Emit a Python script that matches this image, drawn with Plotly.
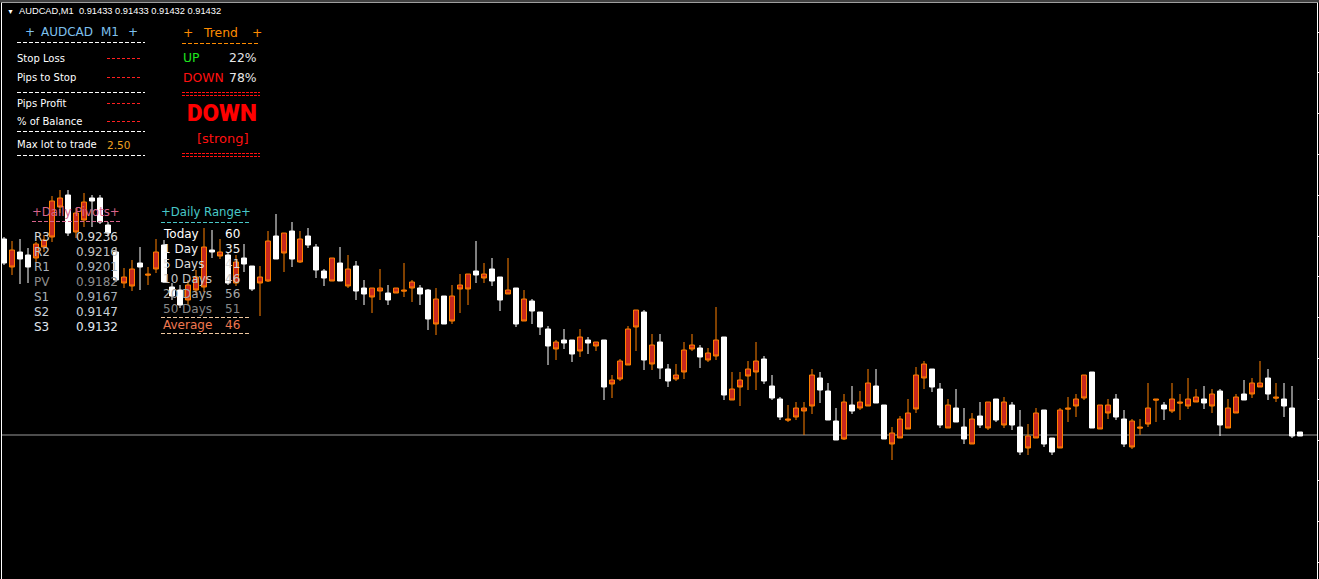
import plotly.graph_objects as go

# ---------------- data ----------------
symbol_title = "AUDCAD,M1"
title_ohlc = ["0.91433", "0.91433", "0.91432", "0.91432"]
bid_price = 0.91432

opens = [0.91604, 0.91617, 0.91608, 0.91600, 0.91623, 0.91627, 0.91666, 0.91669, 0.91634, 0.91654,
         0.91665, 0.91666, 0.91645, 0.91634, 0.91587, 0.91590, 0.91598, 0.91600, 0.91593, 0.91615,
         0.91585, 0.91571, 0.91562, 0.91582, 0.91590, 0.91620, 0.91615, 0.91615, 0.91584, 0.91605,
         0.91603, 0.91578, 0.91590, 0.91626, 0.91608, 0.91634, 0.91608, 0.91628, 0.91622, 0.91597,
         0.91589, 0.91609, 0.91586, 0.91598, 0.91576, 0.91573, 0.91579, 0.91579, 0.91567, 0.91579,
         0.91577, 0.91585, 0.91573, 0.91548, 0.91568, 0.91543, 0.91571, 0.91582, 0.91593, 0.91592,
         0.91593, 0.91586, 0.91567, 0.91577, 0.91543, 0.91568, 0.91556, 0.91540, 0.91521, 0.91525,
         0.91524, 0.91513, 0.91530, 0.91524, 0.91525, 0.91480, 0.91487, 0.91506, 0.91538, 0.91557,
         0.91507, 0.91522, 0.91499, 0.91486, 0.91492, 0.91517, 0.91522, 0.91510, 0.91514, 0.91527,
         0.91472, 0.91478, 0.91487, 0.91498, 0.91506, 0.91486, 0.91469, 0.91450, 0.91448, 0.91459,
         0.91459, 0.91492, 0.91477, 0.91447, 0.91427, 0.91465, 0.91456, 0.91465, 0.91484, 0.91464,
         0.91428, 0.91434, 0.91448, 0.91454, 0.91492, 0.91503, 0.91480, 0.91442, 0.91462, 0.91445,
         0.91428, 0.91448, 0.91442, 0.91465, 0.91447, 0.91465, 0.91442, 0.91415, 0.91431, 0.91454,
         0.91423, 0.91415, 0.91457, 0.91459, 0.91468, 0.91492, 0.91439, 0.91462, 0.91462, 0.91450,
         0.91423, 0.91446, 0.91440, 0.91459, 0.91468, 0.91458, 0.91468, 0.91465, 0.91468, 0.91470,
         0.91464, 0.91473, 0.91442, 0.91459, 0.91470, 0.91467, 0.91484, 0.91484, 0.91473, 0.91470,
         0.91461, 0.91431, 0.91431]
highs = [0.91630, 0.91626, 0.91628, 0.91619, 0.91625, 0.91632, 0.91671, 0.91677, 0.91677, 0.91659,
         0.91674, 0.91672, 0.91672, 0.91645, 0.91619, 0.91599, 0.91607, 0.91620, 0.91600, 0.91628,
         0.91627, 0.91584, 0.91582, 0.91587, 0.91597, 0.91639, 0.91637, 0.91628, 0.91615, 0.91612,
         0.91623, 0.91601, 0.91601, 0.91636, 0.91653, 0.91634, 0.91645, 0.91636, 0.91639, 0.91623,
         0.91598, 0.91609, 0.91620, 0.91612, 0.91606, 0.91587, 0.91579, 0.91598, 0.91582, 0.91579,
         0.91604, 0.91587, 0.91582, 0.91578, 0.91579, 0.91571, 0.91582, 0.91593, 0.91593, 0.91626,
         0.91604, 0.91609, 0.91590, 0.91609, 0.91579, 0.91577, 0.91568, 0.91555, 0.91541, 0.91527,
         0.91538, 0.91527, 0.91538, 0.91530, 0.91525, 0.91527, 0.91492, 0.91508, 0.91541, 0.91557,
         0.91557, 0.91533, 0.91533, 0.91503, 0.91503, 0.91525, 0.91533, 0.91522, 0.91519, 0.91560,
         0.91530, 0.91495, 0.91495, 0.91506, 0.91525, 0.91511, 0.91492, 0.91470, 0.91462, 0.91465,
         0.91465, 0.91498, 0.91495, 0.91484, 0.91459, 0.91473, 0.91481, 0.91476, 0.91498, 0.91498,
         0.91462, 0.91440, 0.91451, 0.91468, 0.91500, 0.91506, 0.91498, 0.91484, 0.91468, 0.91478,
         0.91459, 0.91454, 0.91465, 0.91465, 0.91468, 0.91470, 0.91465, 0.91457, 0.91443, 0.91459,
         0.91457, 0.91429, 0.91459, 0.91470, 0.91473, 0.91492, 0.91495, 0.91462, 0.91468, 0.91473,
         0.91457, 0.91448, 0.91448, 0.91484, 0.91468, 0.91465, 0.91484, 0.91473, 0.91489, 0.91478,
         0.91481, 0.91478, 0.91478, 0.91468, 0.91473, 0.91487, 0.91489, 0.91506, 0.91498, 0.91484,
         0.91484, 0.91481, 0.91435]
lows = [0.91602, 0.91592, 0.91583, 0.91584, 0.91605, 0.91615, 0.91625, 0.91654, 0.91631, 0.91629,
        0.91640, 0.91640, 0.91643, 0.91631, 0.91585, 0.91579, 0.91576, 0.91577, 0.91582, 0.91594,
        0.91584, 0.91567, 0.91559, 0.91562, 0.91572, 0.91575, 0.91609, 0.91608, 0.91582, 0.91581,
        0.91595, 0.91576, 0.91551, 0.91585, 0.91608, 0.91595, 0.91600, 0.91604, 0.91619, 0.91589,
        0.91581, 0.91586, 0.91586, 0.91579, 0.91567, 0.91562, 0.91554, 0.91567, 0.91562, 0.91574,
        0.91570, 0.91565, 0.91562, 0.91537, 0.91532, 0.91543, 0.91543, 0.91554, 0.91562, 0.91584,
        0.91584, 0.91581, 0.91556, 0.91573, 0.91540, 0.91546, 0.91543, 0.91532, 0.91502, 0.91507,
        0.91518, 0.91505, 0.91510, 0.91513, 0.91516, 0.91467, 0.91469, 0.91486, 0.91502, 0.91516,
        0.91497, 0.91497, 0.91488, 0.91480, 0.91486, 0.91488, 0.91516, 0.91499, 0.91505, 0.91507,
        0.91467, 0.91467, 0.91461, 0.91477, 0.91477, 0.91483, 0.91467, 0.91447, 0.91445, 0.91447,
        0.91432, 0.91453, 0.91464, 0.91447, 0.91427, 0.91427, 0.91453, 0.91457, 0.91461, 0.91464,
        0.91428, 0.91407, 0.91429, 0.91438, 0.91454, 0.91478, 0.91475, 0.91439, 0.91439, 0.91445,
        0.91423, 0.91423, 0.91439, 0.91437, 0.91445, 0.91439, 0.91437, 0.91412, 0.91412, 0.91429,
        0.91420, 0.91412, 0.91419, 0.91445, 0.91450, 0.91467, 0.91439, 0.91438, 0.91448, 0.91447,
        0.91420, 0.91418, 0.91432, 0.91440, 0.91445, 0.91447, 0.91454, 0.91447, 0.91458, 0.91465,
        0.91458, 0.91454, 0.91431, 0.91439, 0.91454, 0.91467, 0.91469, 0.91480, 0.91467, 0.91465,
        0.91450, 0.91429, 0.91431]
closes = [0.91628, 0.91600, 0.91615, 0.91612, 0.91609, 0.91620, 0.91630, 0.91660, 0.91672, 0.91635,
          0.91647, 0.91669, 0.91669, 0.91642, 0.91615, 0.91584, 0.91581, 0.91604, 0.91592, 0.91598,
          0.91622, 0.91580, 0.91577, 0.91567, 0.91577, 0.91580, 0.91617, 0.91611, 0.91612, 0.91584,
          0.91609, 0.91601, 0.91584, 0.91586, 0.91631, 0.91614, 0.91636, 0.91605, 0.91631, 0.91620,
          0.91596, 0.91586, 0.91604, 0.91581, 0.91601, 0.91579, 0.91570, 0.91576, 0.91574, 0.91574,
          0.91576, 0.91579, 0.91579, 0.91577, 0.91543, 0.91571, 0.91546, 0.91578, 0.91578, 0.91596,
          0.91589, 0.91598, 0.91590, 0.91573, 0.91579, 0.91546, 0.91566, 0.91555, 0.91538, 0.91518,
          0.91527, 0.91527, 0.91516, 0.91527, 0.91521, 0.91527, 0.91483, 0.91488, 0.91502, 0.91540,
          0.91555, 0.91503, 0.91525, 0.91498, 0.91488, 0.91495, 0.91518, 0.91519, 0.91507, 0.91511,
          0.91530, 0.91467, 0.91480, 0.91491, 0.91495, 0.91508, 0.91481, 0.91468, 0.91447, 0.91450,
          0.91456, 0.91461, 0.91489, 0.91476, 0.91446, 0.91428, 0.91462, 0.91459, 0.91461, 0.91481,
          0.91462, 0.91423, 0.91429, 0.91438, 0.91458, 0.91489, 0.91498, 0.91478, 0.91439, 0.91459,
          0.91440, 0.91423, 0.91451, 0.91439, 0.91468, 0.91442, 0.91462, 0.91440, 0.91419, 0.91429,
          0.91457, 0.91429, 0.91419, 0.91458, 0.91461, 0.91469, 0.91495, 0.91438, 0.91454, 0.91468,
          0.91448, 0.91420, 0.91439, 0.91443, 0.91467, 0.91462, 0.91456, 0.91464, 0.91461, 0.91465,
          0.91468, 0.91461, 0.91476, 0.91439, 0.91454, 0.91473, 0.91473, 0.91480, 0.91489, 0.91469,
          0.91468, 0.91459, 0.91435]
bars = list(range(len(opens)))

panel_symbol = "AUDCAD"
panel_tf = "M1"
info_labels = ["Stop Loss", "Pips to Stop", "Pips Profit", "% of Balance", "Max lot to trade"]
max_lot = "2.50"
trend_up_pct = 22
trend_down_pct = 78
trend_verdict = "DOWN"
trend_strength = "[strong]"

pivot_labels = ["R3", "R2", "R1", "PV", "S1", "S2", "S3"]
pivot_values = ["0.9236", "0.9216", "0.9201", "0.9182", "0.9167", "0.9147", "0.9132"]
range_labels = ["Today", "1 Day", "5 Days", "10 Days", "20 Days", "50 Days"]
range_values = [60, 35, 41, 46, 56, 51]
range_average = 46

# ---------------- geometry helpers ----------------
W, H = 1319, 579
ML, MR, MT, MB = 2, 2, 3, 0
BAR_PX, BAR0_PX = 8, 4          # bar spacing / first bar centre (px)
TOP_PRICE, PX_PER_PRICE = 0.91867, 100000.0


def xp(px):
    return (px - ML) / (W - ML - MR)


def yp(py):
    return 1 - (py - MT) / (H - MT - MB)


fig = go.Figure()
fig.add_trace(go.Candlestick(
    x=bars, open=opens, high=highs, low=lows, close=closes,
    increasing=dict(line=dict(color="#ffffff", width=1), fillcolor="#ffffff"),
    decreasing=dict(line=dict(color="#ff8000", width=1), fillcolor="#c8281e"),
    whiskerwidth=0, hoverinfo="skip", showlegend=False,
))

fig.add_hline(y=bid_price, line=dict(color="#9a9a9a", width=1), layer="below")

F1 = "Liberation Sans, Arial, sans-serif"
F2 = "DejaVu Sans, Verdana, sans-serif"


def label(px, py, text, color, size, family=F1, anchor="left", weight="normal"):
    fig.add_annotation(xref="paper", yref="paper", x=xp(px), y=yp(py), text=text,
                       showarrow=False, xanchor=anchor, yanchor="middle", borderpad=0,
                       font=dict(family=family, size=size, color=color, weight=weight))


def dashed(x0, x1, py, color, dash="4px,2px"):
    fig.add_shape(type="line", xref="paper", yref="paper", x0=xp(x0), x1=xp(x1),
                  y0=yp(py), y1=yp(py), line=dict(color=color, width=1, dash=dash))


# top grey strip
fig.add_shape(type="rect", xref="paper", yref="paper", x0=xp(0), x1=xp(W), y0=yp(0), y1=yp(2.5),
              line=dict(width=0), fillcolor="#404040")

# title line
label(6, 11.5, "▼", "#ffffff", 7)
label(18, 11.5, symbol_title + "  " + " ".join(title_ohlc), "#ffffff", 9.3)

# left info panel
SKY = "#7ec0ee"
label(24, 32, "+", SKY, 12, family=F2)
label(40, 32, panel_symbol, SKY, 12, family=F2)
label(100, 32, panel_tf, SKY, 12, family=F2)
label(127, 32, "+", SKY, 12, family=F2)
for yy in (42.5, 92.5, 131.5, 155.5):
    dashed(17, 145, yy, "#ffffff")
info_y = [58.3, 77.7, 103.7, 121.7, 144.7]
for lab, yy in zip(info_labels, info_y):
    label(16, yy, lab, "#ffffff", 10, family=F2)
for yy in (58.5, 77.5, 103.5, 121.5):
    dashed(107, 141, yy, "#ff2020", "3px,2px")
label(106, info_y[4], max_lot, "#f0a020", 10.5, family=F2)

# trend panel
ORG = "#ff8c00"
label(182, 32.7, "+", ORG, 12.4, family=F2)
label(202, 32.7, "Trend", ORG, 12.4, family=F2)
label(251, 32.7, "+", ORG, 12.4, family=F2)
dashed(182, 260, 43.5, ORG)
label(182, 57.7, "UP", "#1ee61e", 12.4, family=F2)
label(258, 57.7, f"{trend_up_pct}%", "#e6e6e6", 12.4, family=F2, anchor="right")
label(182, 77.3, "DOWN", "#ff1010", 12.4, family=F2)
label(258, 77.3, f"{trend_down_pct}%", "#e6e6e6", 12.4, family=F2, anchor="right")
for yy in (92.5, 95.5, 153.5, 156.5):
    dashed(182, 260, yy, "#ff1010", "3px,1px")
label(222, 113, trend_verdict, "#ff0000", 24,
      family="Roboto, Liberation Sans, sans-serif", anchor="center", weight=900)
label(222.5, 138.3, trend_strength, "#ff1010", 13, family=F2, anchor="center")

# daily pivots
label(31, 211.7, "+Daily Pivots+", "#d8648c", 11.7, family=F2)
dashed(32, 120, 221.5, "#d8648c")
pivot_colors = ["#d8d8d8", "#c0c0c0", "#a8b0b8", "#8c8c8c", "#a8b0b8", "#c8d0d8", "#e0e8f0"]
for i, (lab, val) in enumerate(zip(pivot_labels, pivot_values)):
    yy = 236.7 + 15 * i
    label(33, yy, lab, pivot_colors[i], 12, family=F2)
    label(75, yy, val, pivot_colors[i], 12, family=F2)

# daily range
label(160, 211.7, "+Daily Range+", "#48c8c8", 11.7, family=F2)
dashed(161, 249, 222.5, "#48c8c8")
range_colors = ["#ffffff", "#f0f0f0", "#dcdcdc", "#c4c4c4", "#a8a8a8", "#888888"]
for i, (lab, val) in enumerate(zip(range_labels, range_values)):
    yy = 234.3 + 14.9 * i
    label(162, yy, lab, range_colors[i], 12, family=F2)
    label(223.5, yy, str(val), range_colors[i], 12, family=F2)
dashed(161, 249, 317.5, "#f0c8a0")
label(162, 324.7, "Average", "#f07850", 12, family=F2)
label(223.5, 324.7, str(range_average), "#f07850", 12, family=F2)
dashed(161, 249, 333.5, "#f0c8a0")

x_lo = (ML - BAR0_PX) / BAR_PX
x_hi = (W - MR - BAR0_PX) / BAR_PX
y_top = TOP_PRICE - MT / PX_PER_PRICE
y_bot = TOP_PRICE - (H - MB) / PX_PER_PRICE

fig.update_layout(
    width=W, height=H,
    margin=dict(l=ML, r=MR, t=MT, b=MB, pad=0),
    paper_bgcolor="#000000", plot_bgcolor="#000000",
    boxgap=0.375, boxgroupgap=0,
    showlegend=False,
    xaxis=dict(range=[x_lo, x_hi], side="top", showgrid=False, zeroline=False,
               showticklabels=False, ticks="", showline=True, mirror=False,
               linecolor="#ffffff", linewidth=1,
               rangeslider=dict(visible=False), fixedrange=True),
    yaxis=dict(range=[y_bot, y_top], side="right", showgrid=False, zeroline=False,
               showticklabels=False, ticks="outside", ticklen=3, tickcolor="#ffffff",
               tick0=0.91427, dtick=0.000408, showline=True, mirror=True,
               linecolor="#ffffff", linewidth=1, fixedrange=True),
)

fig.write_html(
    "out.html",
    config={"displayModeBar": False, "staticPlot": True},
    post_script="document.body.style.margin='0px';document.body.style.overflow='hidden';",
)
